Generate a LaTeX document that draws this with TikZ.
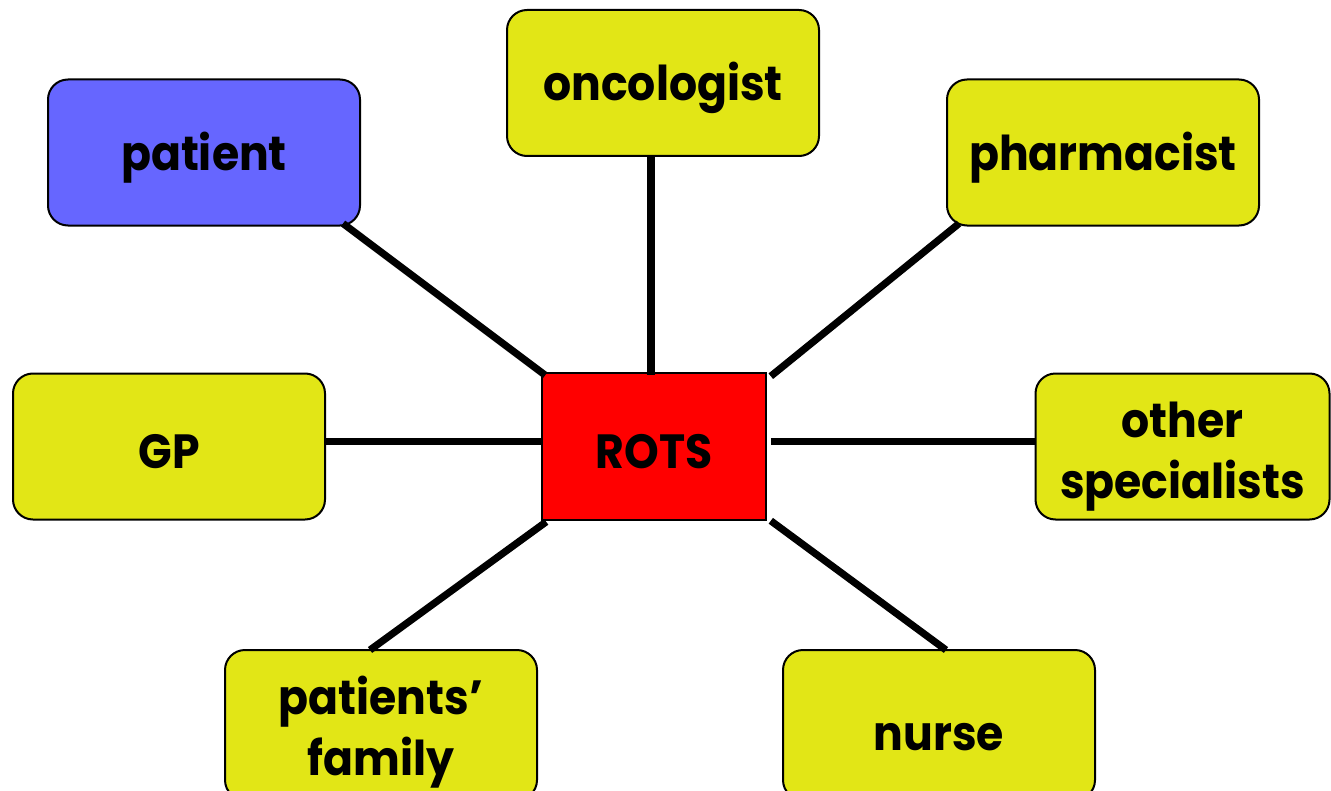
\documentclass[tikz,border=0pt]{standalone}
\usepackage{fontspec}
\setmainfont{Poppins}[FakeStretch=0.92]
\usetikzlibrary{calc}
\definecolor{boxyellow}{RGB}{226,230,22}
\definecolor{boxblue}{RGB}{102,102,255}
\definecolor{hubred}{RGB}{255,0,0}
\begin{document}
\begin{tikzpicture}[x=0.5pt,y=-0.5pt,
  txt/.style={font=\bfseries\fontsize{24}{30.5}\selectfont,align=center,
    inner sep=0pt,yshift=-2.5pt},
  role/.style={draw=black,line width=1pt,rounded corners=10pt,fill=boxyellow,
    minimum width=156pt,minimum height=73pt,inner sep=0pt},
  hub/.style={draw=black,line width=0.8pt,fill=hubred,
    minimum width=112pt,minimum height=73.5pt,inner sep=0pt},
  link/.style={line width=3.6pt,black}]
\useasboundingbox (0,0) rectangle (1331,791);
\clip (0,0) rectangle (1331,791);
% central hub
\node[hub,label={[txt]center:ROTS}] (rots) at (654,446.5) {};
% surrounding roles
\node[role,fill=boxblue,label={[txt]center:patient}] (patient) at (204,152.5) {};
\node[role,label={[txt]center:oncologist}] (onco) at (663,83) {};
\node[role,label={[txt]center:pharmacist}] (pharm) at (1103,152.5) {};
\node[role,label={[txt]center:GP}] (gp) at (169,446.5) {};
\node[role,minimum width=147pt,label={[txt,yshift=-2.5pt]center:other\\specialists}] (other) at (1182.5,446.5) {};
\node[role,minimum height=75pt,label={[txt,yshift=-1pt]center:patients’\\family}] (family) at (381,725) {};
\node[role,minimum height=75pt,label={[txt,yshift=-3.5pt]center:nurse}] (nurse) at (939,725) {};
% spokes
\draw[link] ($(patient.south east)+(-18,-3)$) -- ($(rots.north west)+(4,3)$);
\draw[link] ($(onco.south)+(-12,0)$) -- ($(rots.north)+(-3,3)$);
\draw[link] ($(pharm.south west)+(13,-3)$) -- ($(rots.north east)+(4,4)$);
\draw[link] ($(gp.east)+(0,-5)$) -- ($(rots.west)+(0,-5)$);
\draw[link] ($(rots.east)+(4,-5)$) -- ($(other.west)+(0,-5)$);
\draw[link] ($(family.north)+(-11,1)$) -- ($(rots.south west)+(5,1)$);
\draw[link] ($(nurse.north)+(7,1)$) -- ($(rots.south east)+(4,0)$);
\end{tikzpicture}
\end{document}
